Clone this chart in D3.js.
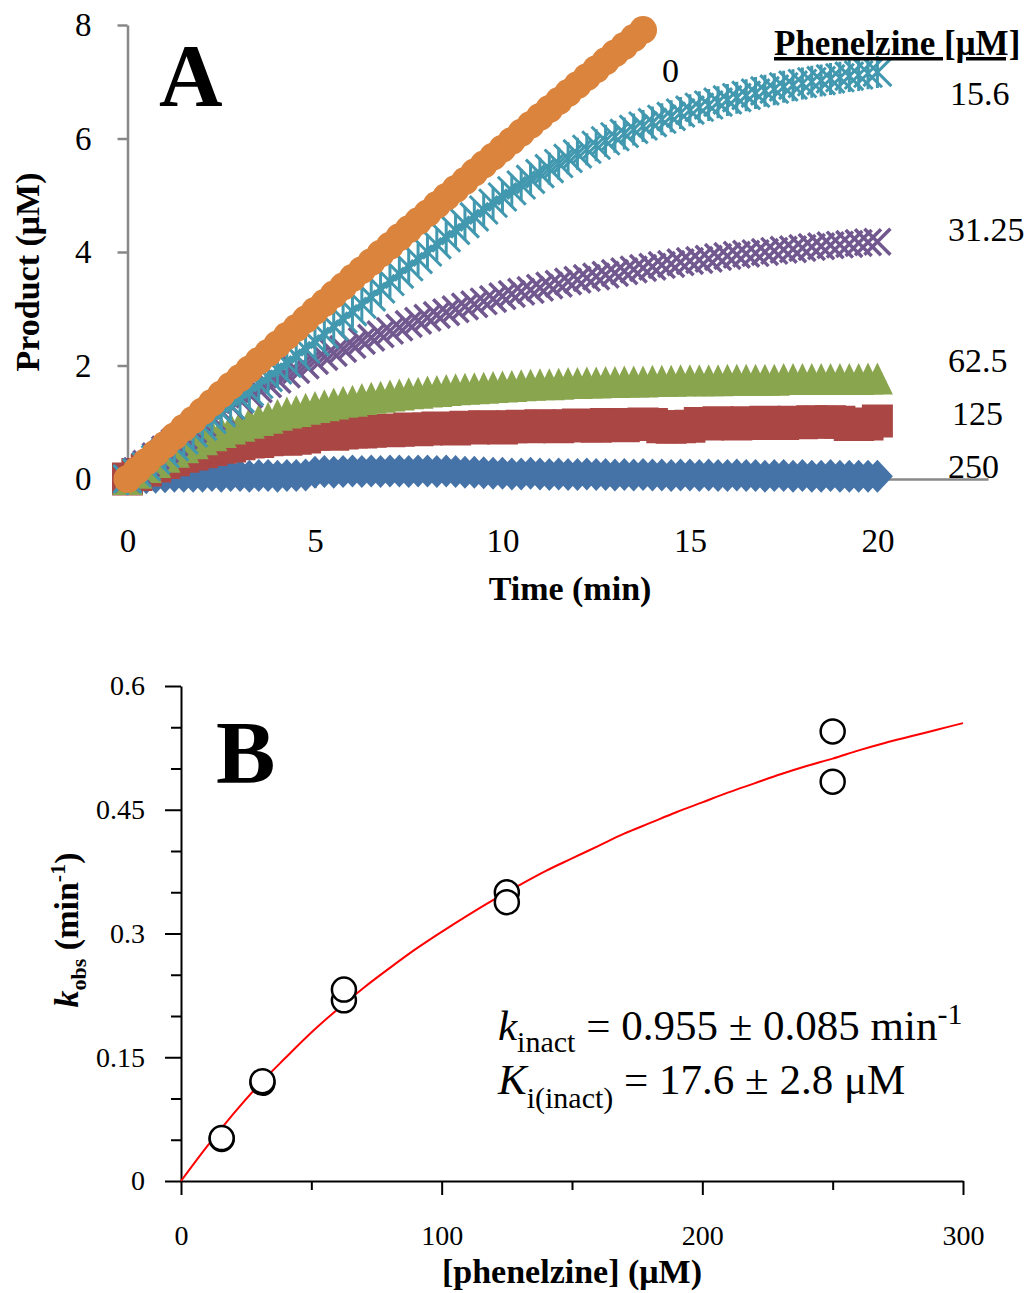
<!DOCTYPE html>
<html>
<head>
<meta charset="utf-8">
<script src="https://cdn.jsdelivr.net/npm/d3@7"></script>
<style>
  body { margin: 0; background: #fff; }
  svg text { font-family: "Liberation Serif", "Times New Roman", serif; fill: #000; }
  .axisA .domain, .axisA line { stroke: #888; stroke-width: 2.5; }
  .axisB .domain, .axisB line { stroke: #000; stroke-width: 2; }
</style>
</head>
<body>
<div id="chart"></div>
<script>
// ---- panel A data: product formed (uM) vs time (min), one list per phenelzine conc ----
const timeMin = [0,0.25,0.5,0.75,1,1.25,1.5,1.75,2,2.25,2.5,2.75,3,3.25,3.5,3.75,4,4.25,4.5,4.75,
  5,5.25,5.5,5.75,6,6.25,6.5,6.75,7,7.25,7.5,7.75,8,8.25,8.5,8.75,9,9.25,9.5,9.75,
  10,10.25,10.5,10.75,11,11.25,11.5,11.75,12,12.25,12.5,12.75,13,13.25,13.5,13.75,14,14.25,14.5,14.75,
  15,15.25,15.5,15.75,16,16.25,16.5,16.75,17,17.25,17.5,17.75,18,18.25,18.5,18.75,19,19.25,19.5,19.75,20];

const prod0 = [0,0.15,0.30,0.45,0.60,0.75,0.90,1.04,1.19,1.34,1.49,1.64,1.78,1.93,2.08,2.22,2.37,2.52,2.66,2.81,
  2.96,3.10,3.25,3.39,3.54,3.68,3.82,3.97,4.11,4.26,4.40,4.54,4.68,4.83,4.97,5.11,5.25,5.40,5.54,5.68,
  5.82,5.96,6.10,6.24,6.38,6.52,6.66,6.80,6.94,7.08,7.22,7.36,7.50,7.63,7.77,7.91];
const prod15 = [0,0.11,0.22,0.34,0.45,0.57,0.69,0.81,0.93,1.05,1.17,1.30,1.42,1.54,1.67,1.79,1.92,2.04,2.17,2.29,
  2.42,2.55,2.69,2.82,2.95,3.08,3.21,3.35,3.48,3.61,3.74,3.87,4.00,4.13,4.25,4.38,4.50,4.62,4.74,4.86,
  4.97,5.08,5.18,5.28,5.38,5.47,5.56,5.65,5.73,5.81,5.88,5.96,6.03,6.09,6.16,6.22,6.28,6.34,6.39,6.45,
  6.50,6.55,6.59,6.64,6.68,6.72,6.76,6.80,6.84,6.87,6.91,6.94,6.97,7.00,7.02,7.05,7.07,7.10,7.12,7.15,7.17];
const prod31 = [0,0.14,0.27,0.40,0.52,0.64,0.76,0.87,0.98,1.09,1.19,1.29,1.39,1.49,1.58,1.67,1.75,1.84,1.92,2.00,
  2.08,2.15,2.22,2.29,2.36,2.43,2.49,2.55,2.61,2.67,2.73,2.79,2.84,2.89,2.94,2.99,3.04,3.08,3.13,3.17,
  3.22,3.26,3.30,3.33,3.37,3.41,3.44,3.48,3.51,3.54,3.57,3.60,3.63,3.66,3.69,3.72,3.74,3.77,3.79,3.82,
  3.84,3.86,3.88,3.91,3.93,3.95,3.97,3.98,4.00,4.02,4.04,4.05,4.07,4.09,4.10,4.12,4.13,4.14,4.16,4.17,4.18];
const prod62 = [0,0.11,0.21,0.30,0.39,0.48,0.56,0.63,0.70,0.77,0.83,0.89,0.94,0.99,1.04,1.08,1.13,1.17,1.20,1.24,
  1.27,1.30,1.33,1.36,1.38,1.41,1.43,1.45,1.47,1.49,1.51,1.52,1.54,1.55,1.57,1.58,1.59,1.60,1.61,1.62,
  1.63,1.64,1.65,1.66,1.67,1.67,1.68,1.69,1.69,1.70,1.70,1.71,1.71,1.72,1.72,1.72,1.73,1.73,1.73,1.74,
  1.74,1.74,1.74,1.74,1.75,1.75,1.75,1.75,1.75,1.75,1.76,1.76,1.76,1.76,1.76,1.76,1.76,1.76,1.76,1.77,1.77];
const prod125 = [0,0.08,0.16,0.23,0.29,0.34,0.40,0.44,0.48,0.52,0.56,0.58,0.62,0.65,0.66,0.69,0.71,0.70,0.72,0.74,
  0.79,0.80,0.79,0.81,0.83,0.83,0.84,0.86,0.85,0.86,0.88,0.87,0.88,0.90,0.89,0.88,0.91,0.90,0.92,0.91,
  0.90,0.92,0.93,0.92,0.94,0.93,0.92,0.94,0.95,0.94,0.93,0.96,0.95,0.94,0.96,0.97,0.96,0.92,0.91,0.92,
  0.93,0.98,0.97,0.99,0.98,0.97,0.99,0.98,1.00,0.99,0.98,1.00,0.99,1.01,1.00,1.01,1.00,0.96,0.96,0.97,1.02];
const prod250 = [0,0.01,0.02,0.03,0.04,0.05,0.05,0.05,0.05,0.06,0.05,0.06,0.06,0.05,0.06,0.06,0.05,0.06,0.06,0.07,
  0.12,0.13,0.12,0.13,0.14,0.13,0.14,0.13,0.14,0.14,0.13,0.14,0.14,0.13,0.14,0.13,0.12,0.12,0.11,0.10,
  0.10,0.09,0.09,0.10,0.09,0.08,0.09,0.08,0.08,0.09,0.08,0.08,0.07,0.08,0.07,0.08,0.07,0.07,0.06,0.07,
  0.07,0.06,0.07,0.06,0.06,0.07,0.06,0.06,0.05,0.06,0.06,0.05,0.06,0.05,0.05,0.06,0.05,0.05,0.05,0.05,0.05];

const xTicksA = [0, 5, 10, 15, 20];
const yTicksA = [0, 2, 4, 6, 8];

// ---- panel B data: kobs vs [phenelzine] with the hyperbolic fit ----
const concB = [15.6, 15.6, 31.25, 31.25, 62.5, 62.5, 125, 125, 250, 250];
const kobsB = [0.051, 0.052, 0.119, 0.121, 0.219, 0.232, 0.350, 0.338, 0.545, 0.484];
const fitConc = [0,10,20,30,40,50,60,70,80,90,100,110,120,130,140,150,160,170,180,190,200,210,220,230,240,250,260,270,280,290,300];
const fitK = [0,0.042,0.081,0.117,0.149,0.180,0.208,0.234,0.258,0.281,0.302,0.322,0.341,0.359,0.376,0.391,
  0.406,0.421,0.434,0.447,0.459,0.471,0.482,0.493,0.503,0.512,0.522,0.531,0.539,0.547,0.555];
const xMajorB = [0, 100, 200, 300], xMinorB = [50, 150, 250];
const yMajorB = [0, 0.15, 0.3, 0.45, 0.6], yMinorB = [0.05, 0.1, 0.2, 0.25, 0.35, 0.4, 0.5, 0.55];

const W = 1028, H = 1293;
const svg = d3.select('#chart').append('svg').attr('width', W).attr('height', H);

// marker outlines, centred on the data point
const shapes = {
  circle: d3.symbol(d3.symbolCircle, Math.PI * 14 * 14)(),
  square: 'M-15.5,-16.5h31v33h-31Z',
  triangle: 'M0,-16L15.5,16L-15.5,16Z',
  diamond: 'M0,-16.5L15.5,0L0,16.5L-15.5,0Z',
  cross: 'M-13,-13L13,13M-13,13L13,-13',
  star: 'M-14,-14L14,14M-14,14L14,-14M0,-16L0,16'
};

const seriesA = [
  { label: '250', values: prod250, color: '#4572A7', shape: 'diamond', lx: 948, ly: 478 },
  { label: '125', values: prod125, color: '#AA4643', shape: 'square', lx: 952, ly: 425 },
  { label: '62.5', values: prod62, color: '#89A54E', shape: 'triangle', lx: 948, ly: 372 },
  { label: '31.25', values: prod31, color: '#71588F', shape: 'cross', lx: 948, ly: 241 },
  { label: '15.6', values: prod15, color: '#4198AF', shape: 'star', lx: 950, ly: 105 },
  { label: '0', values: prod0, color: '#DB843D', shape: 'circle', lx: 662, ly: 82 }
];

function drawPanelA() {
  const x = d3.scaleLinear().domain([0, 22.95]).range([127.5, 988]);
  const y = d3.scaleLinear().domain([0, 8]).range([479, 25]);

  const gx = svg.append('g').attr('class', 'axisA')
    .attr('transform', 'translate(0,479)')
    .call(d3.axisBottom(x).tickValues(xTicksA).tickSize(9).tickSizeOuter(0).tickPadding(41));
  gx.selectAll('text').style('font-size', '33px');

  const gy = svg.append('g').attr('class', 'axisA')
    .attr('transform', 'translate(127.5,0)')
    .call(d3.axisLeft(y).tickValues(yTicksA).tickSize(10).tickSizeOuter(0).tickPadding(26));
  gy.selectAll('text').style('font-size', '33px');

  seriesA.forEach(s => {
    const pts = s.values.map((v, i) => ({ t: timeMin[i], v }));
    const filled = s.shape !== 'cross' && s.shape !== 'star';
    svg.append('g').selectAll('path')
      .data(pts)
      .join('path')
      .attr('d', shapes[s.shape])
      .attr('transform', d => `translate(${x(d.t)},${y(d.v)})`)
      .attr('fill', filled ? s.color : 'none')
      .attr('stroke', filled ? 'none' : s.color)
      .attr('stroke-width', s.shape === 'cross' ? 3.5 : 3);
  });

  // series labels placed next to the curves
  svg.append('g').selectAll('text')
    .data(seriesA)
    .join('text')
    .attr('x', d => d.lx)
    .attr('y', d => d.ly)
    .style('font-size', '34px')
    .text(d => d.label);

  svg.append('text')
    .attr('x', 774).attr('y', 55)
    .style('font-size', '35px').style('font-weight', 'bold')
    .style('text-decoration', 'underline')
    .text('Phenelzine [\u03bcM]');

  svg.append('text')
    .attr('x', 570).attr('y', 600)
    .attr('text-anchor', 'middle')
    .style('font-size', '34px').style('font-weight', 'bold')
    .text('Time (min)');

  svg.append('text')
    .attr('transform', 'translate(39,272) rotate(-90)')
    .attr('text-anchor', 'middle')
    .style('font-size', '34px').style('font-weight', 'bold')
    .text('Product (\u03bcM)');

  svg.append('text')
    .attr('x', 159).attr('y', 105)
    .style('font-size', '88px').style('font-weight', 'bold')
    .text('A');
}

function drawPanelB() {
  const x = d3.scaleLinear().domain([0, 300]).range([181, 963]);
  const y = d3.scaleLinear().domain([0, 0.6]).range([1181, 686]);

  const gx = svg.append('g').attr('class', 'axisB').attr('transform', 'translate(0,1181)');
  gx.call(d3.axisBottom(x).tickValues(xMajorB).tickSize(14).tickSizeOuter(0).tickPadding(30));
  gx.selectAll('text').style('font-size', '28px');
  svg.append('g').attr('class', 'axisB').attr('transform', 'translate(0,1181)')
    .call(d3.axisBottom(x).tickValues(xMinorB).tickSize(9).tickSizeOuter(0).tickFormat(''))
    .select('.domain').remove();

  const gy = svg.append('g').attr('class', 'axisB').attr('transform', 'translate(181,0)');
  gy.call(d3.axisLeft(y).tickValues(yMajorB).tickSize(16).tickSizeOuter(0).tickPadding(20)
    .tickFormat(d3.format('~g')));
  gy.selectAll('text').style('font-size', '28px');
  svg.append('g').attr('class', 'axisB').attr('transform', 'translate(181,0)')
    .call(d3.axisLeft(y).tickValues(yMinorB).tickSize(10).tickSizeOuter(0).tickFormat(''))
    .select('.domain').remove();

  const fit = fitConc.map((c, i) => ({ c, k: fitK[i] }));
  svg.append('path')
    .datum(fit)
    .attr('fill', 'none')
    .attr('stroke', '#ff0000')
    .attr('stroke-width', 2)
    .attr('d', d3.line().x(d => x(d.c)).y(d => y(d.k)).curve(d3.curveMonotoneX));

  svg.append('g').selectAll('circle')
    .data(concB.map((c, i) => ({ c, k: kobsB[i] })))
    .join('circle')
    .attr('cx', d => x(d.c))
    .attr('cy', d => y(d.k))
    .attr('r', 12)
    .attr('fill', '#fff')
    .attr('stroke', '#000')
    .attr('stroke-width', 2.5);

  svg.append('text')
    .attr('x', 572).attr('y', 1283)
    .attr('text-anchor', 'middle')
    .style('font-size', '34px').style('font-weight', 'bold')
    .text('[phenelzine] (\u03bcM)');

  const yt = svg.append('text')
    .attr('transform', 'translate(78,930) rotate(-90)')
    .attr('text-anchor', 'middle')
    .style('font-size', '34px').style('font-weight', 'bold');
  yt.append('tspan').style('font-style', 'italic').text('k');
  yt.append('tspan').attr('dy', 8).style('font-size', '22px').text('obs');
  yt.append('tspan').attr('dy', -8).text(' (min');
  yt.append('tspan').attr('dy', -13).style('font-size', '22px').text('-1');
  yt.append('tspan').attr('dy', 13).text(')');

  svg.append('text')
    .attr('x', 216).attr('y', 782)
    .style('font-size', '89px').style('font-weight', 'bold')
    .text('B');

  // fitted parameters
  const t1 = svg.append('text').attr('x', 498).attr('y', 1040).style('font-size', '43px');
  t1.append('tspan').style('font-style', 'italic').text('k');
  t1.append('tspan').attr('dy', 12).style('font-size', '30px').text('inact');
  t1.append('tspan').attr('dy', -12).text(' = 0.955 \u00b1 0.085 min');
  t1.append('tspan').attr('dy', -16).style('font-size', '30px').text('-1');

  const t2 = svg.append('text').attr('x', 498).attr('y', 1094).style('font-size', '43px');
  t2.append('tspan').style('font-style', 'italic').text('K');
  t2.append('tspan').attr('dy', 14).style('font-size', '30px').text('i(inact)');
  t2.append('tspan').attr('dy', -14).text(' = 17.6 \u00b1 2.8 \u03bcM');
}

drawPanelA();
drawPanelB();
</script>
</body>
</html>
